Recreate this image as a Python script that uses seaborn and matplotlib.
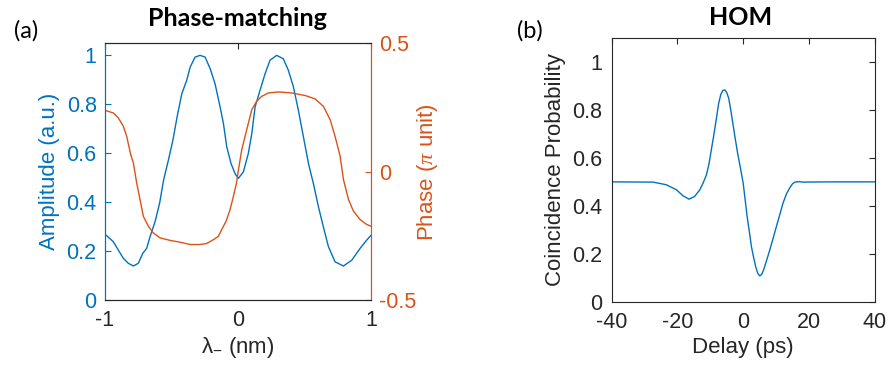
import matplotlib
matplotlib.use("Agg")
import matplotlib.pyplot as plt
import numpy as np
import pandas as pd
import seaborn as sns

sns.set_style("white")
plt.rcParams['font.family'] = ['Liberation Sans', 'DejaVu Sans']
plt.rcParams['mathtext.fontset'] = 'custom'
plt.rcParams['mathtext.rm'] = 'Liberation Sans'
plt.rcParams['mathtext.it'] = 'Liberation Serif:italic'
plt.rcParams['axes.unicode_minus'] = False

BLUE = '#0072BD'
ORANGE = '#D95319'
GREY = '#262626'

# (a) phase-matching amplitude
lam_amp = [-0.992, -0.937, -0.90, -0.862, -0.825, -0.787, -0.75, -0.717, -0.687, -0.662,
           -0.624, -0.59, -0.56, -0.524, -0.49, -0.456, -0.423, -0.386, -0.36, -0.323,
           -0.286, -0.248, -0.21, -0.173, -0.135, -0.11, -0.085, -0.053, -0.023, 0.002,
           0.04, 0.077, 0.103, 0.128, 0.165, 0.203, 0.24, 0.29, 0.34, 0.378,
           0.416, 0.453, 0.491, 0.529, 0.566, 0.604, 0.641, 0.679, 0.729, 0.792,
           0.855, 0.917, 0.967, 1.0]
amplitude = [0.265, 0.238, 0.204, 0.170, 0.150, 0.139, 0.150, 0.19, 0.211, 0.258,
             0.32, 0.395, 0.49, 0.571, 0.653, 0.755, 0.843, 0.898, 0.952, 0.993,
             1.0, 0.993, 0.946, 0.884, 0.789, 0.721, 0.626, 0.558, 0.517, 0.497,
             0.524, 0.599, 0.68, 0.789, 0.857, 0.925, 0.98, 1.0, 0.986, 0.939,
             0.871, 0.776, 0.667, 0.558, 0.476, 0.381, 0.299, 0.218, 0.156, 0.139,
             0.163, 0.211, 0.245, 0.265]

# (a) phase-matching phase (pi units)
lam_ph = [-0.992, -0.937, -0.90, -0.862, -0.837, -0.807, -0.787, -0.762, -0.737, -0.712,
          -0.674, -0.637, -0.587, -0.511, -0.436, -0.36, -0.286, -0.236, -0.185, -0.148,
          -0.123, -0.09, -0.06, -0.035, -0.012, 0.002, 0.028, 0.065, 0.103, 0.14,
          0.178, 0.228, 0.303, 0.403, 0.504, 0.579, 0.641, 0.692, 0.729, 0.767,
          0.792, 0.83, 0.867, 0.917, 0.967, 1.0]
phase = [0.237, 0.228, 0.209, 0.176, 0.137, 0.066, 0.034, -0.044, -0.109, -0.174,
         -0.213, -0.239, -0.258, -0.268, -0.275, -0.284, -0.284, -0.28, -0.265, -0.252,
         -0.226, -0.193, -0.148, -0.096, -0.045, 0.005, 0.086, 0.163, 0.241, 0.274,
         0.293, 0.306, 0.31, 0.306, 0.296, 0.283, 0.254, 0.202, 0.137, 0.06,
         -0.031, -0.109, -0.154, -0.187, -0.206, -0.213]

# (b) HOM dip
delay = [-40, -27.4, -23.4, -20.3, -18.3, -16.5, -14.8, -13.2, -12.2, -11.2,
         -10.4, -9.7, -9.0, -8.2, -7.5, -6.8, -6.2, -5.6, -5.0, -4.4,
         -3.7, -3.1, -2.4, -1.6, -0.8, 0.0, 0.6, 1.2, 1.9, 2.5,
         3.2, 3.8, 4.4, 5.0, 5.6, 6.2, 7.1, 8.1, 9.1, 10.1,
         11.1, 12.1, 13.1, 14.1, 15.0, 15.7, 16.7, 18.2, 25.8, 40]
coinc = [0.500, 0.499, 0.488, 0.467, 0.442, 0.428, 0.439, 0.467, 0.495, 0.529,
         0.575, 0.633, 0.690, 0.760, 0.825, 0.865, 0.881, 0.883, 0.872, 0.848,
         0.793, 0.740, 0.678, 0.612, 0.555, 0.494, 0.425, 0.355, 0.290, 0.230,
         0.183, 0.147, 0.120, 0.108, 0.114, 0.133, 0.172, 0.217, 0.265, 0.314,
         0.362, 0.411, 0.448, 0.474, 0.492, 0.499, 0.501, 0.499, 0.500, 0.500]

fig = plt.figure(figsize=(8.93, 3.75), dpi=100)
ax1 = fig.add_axes([0.1176, 0.2, 0.298, 0.685])
ax2 = ax1.twinx()
ax3 = fig.add_axes([0.685, 0.195, 0.2945, 0.704])

sns.lineplot(x=lam_amp, y=amplitude, ax=ax1, color=BLUE, linewidth=1.0)
sns.lineplot(x=lam_ph, y=phase, ax=ax2, color=ORANGE, linewidth=1.0)
sns.lineplot(x=delay, y=coinc, ax=ax3, color=BLUE, linewidth=1.0)

TS = 15.5
LS = 16

# panel (a)
ax1.set_xlim(-1, 1)
ax1.set_ylim(0, 1.05)
ax2.set_ylim(-0.5, 0.5)
ax1.set_xticks([-1, 0, 1])
ax1.set_xticklabels(['-1', '0', '1'])
ax1.set_yticks([0, 0.2, 0.4, 0.6, 0.8, 1])
ax1.set_yticklabels(['0', '0.2', '0.4', '0.6', '0.8', '1'])
ax2.set_yticks([-0.5, 0, 0.5])
ax2.set_yticklabels(['-0.5', '0', '0.5'])
ax1.tick_params(axis='x', direction='in', length=4, top=True, colors=GREY,
                labelsize=TS, pad=7)
ax1.tick_params(axis='y', direction='in', length=4, colors=BLUE, labelsize=TS, pad=6)
ax2.tick_params(axis='y', direction='in', length=4, colors=ORANGE, labelsize=TS, pad=6)
for a in (ax1, ax2):
    a.spines['top'].set_color(GREY)
    a.spines['bottom'].set_color(GREY)
    a.spines['left'].set_color(BLUE)
    a.spines['right'].set_color(ORANGE)
    for s in a.spines.values():
        s.set_linewidth(0.8)
ax1.set_xlabel('$\\mathregular{λ_{-}}$ (nm)', fontsize=LS, color=GREY, labelpad=3)
ax1.set_ylabel('Amplitude (a.u.)', fontsize=LS, color=BLUE, labelpad=5)
ax2.set_ylabel('Phase ($\\mathit{\\pi}$ unit)', fontsize=LS, color=ORANGE, labelpad=-1)

# panel (b)
ax3.set_xlim(-40, 40)
ax3.set_ylim(0, 1.1)
ax3.set_xticks([-40, -20, 0, 20, 40])
ax3.set_xticklabels(['-40', '-20', '0', '20', '40'])
ax3.set_yticks([0, 0.2, 0.4, 0.6, 0.8, 1])
ax3.set_yticklabels(['0', '0.2', '0.4', '0.6', '0.8', '1'])
ax3.tick_params(direction='in', length=4, top=True, right=True, colors=GREY,
                labelsize=TS, pad=7)
for s in ax3.spines.values():
    s.set_color(GREY)
    s.set_linewidth(0.8)
ax3.set_xlabel('Delay (ps)', fontsize=LS, color=GREY, labelpad=3)
ax3.set_ylabel('Coincidence Probability', fontsize=LS, color=GREY, labelpad=4)

# titles and panel letters
fig.text(237 / 893, 1 - 26 / 375, 'Phase-matching', ha='center', va='baseline',
         fontsize=18, fontweight='bold', family='Lato', color='black')
fig.text(741 / 893, 1 - 25 / 375, 'HOM', ha='center', va='baseline',
         fontsize=18, fontweight='bold', family='Lato', color='black')
fig.text(26 / 893, 1 - 31 / 375, '(a)', ha='center', va='center',
         fontsize=17, family='Lato', color='black')
fig.text(530 / 893, 1 - 31 / 375, '(b)', ha='center', va='center',
         fontsize=17, family='Lato', color='black')

fig.savefig('out.png', dpi=100)
